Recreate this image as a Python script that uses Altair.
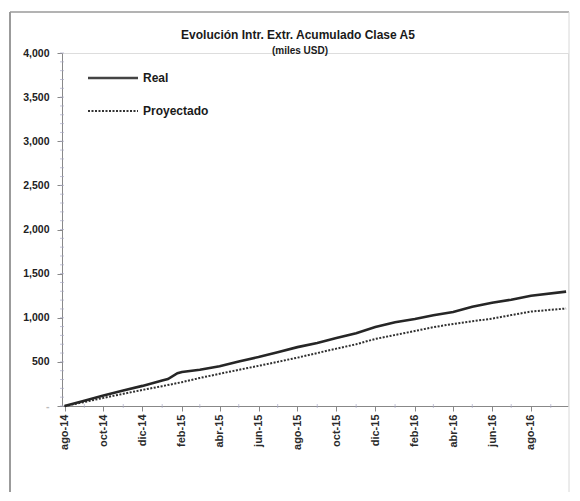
import altair as alt
import pandas as pd

# --- data (miles USD) ---
real_dates = ["2014-08-01", "2014-09-01", "2014-10-01", "2014-11-01", "2014-12-01",
              "2015-01-01", "2015-01-10", "2015-01-25", "2015-02-01", "2015-03-01",
              "2015-04-01", "2015-05-01", "2015-06-01", "2015-07-01", "2015-08-01",
              "2015-09-01", "2015-10-01", "2015-11-01", "2015-12-01", "2016-01-01",
              "2016-02-01", "2016-03-01", "2016-04-01", "2016-05-01", "2016-06-01",
              "2016-07-01", "2016-08-01", "2016-09-25"]
real_vals = [0, 60, 120, 175, 228,
             290, 305, 372, 385, 410,
             450, 505, 555, 610, 667,
             715, 770, 825, 895, 950,
             985, 1028, 1065, 1125, 1170,
             1205, 1250, 1296]

proj_dates = ["2014-08-01", "2014-09-01", "2014-10-01", "2014-11-01", "2014-12-01",
              "2015-01-01", "2015-02-01", "2015-03-01", "2015-04-01", "2015-05-01",
              "2015-06-01", "2015-07-01", "2015-08-01", "2015-09-01", "2015-10-01",
              "2015-11-01", "2015-12-01", "2016-01-01", "2016-02-01", "2016-03-01",
              "2016-04-01", "2016-05-01", "2016-06-01", "2016-07-01", "2016-08-01",
              "2016-09-25"]
proj_vals = [0, 45, 92, 138, 182,
             225, 270, 318, 365, 410,
             455, 500, 548, 600, 650,
             700, 760, 805, 850, 893,
             930, 960, 990, 1030, 1070,
             1105]

y_ticks = [0, 500, 1000, 1500, 2000, 2500, 3000, 3500, 4000]
y_minor = list(range(0, 4001, 100))
x_tick_months = [(2014, 8), (2014, 10), (2014, 12), (2015, 2), (2015, 4), (2015, 6),
                 (2015, 8), (2015, 10), (2015, 12), (2016, 2), (2016, 4), (2016, 6),
                 (2016, 8)]
x_minor = ["2014-09-01", "2014-11-01", "2015-01-01", "2015-03-01", "2015-05-01",
           "2015-07-01", "2015-09-01", "2015-11-01", "2016-01-01", "2016-03-01",
           "2016-05-01", "2016-07-01", "2016-09-01"]

title_text = "Evolución Intr. Extr. Acumulado Clase A5"
subtitle_text = "(miles USD)"
legend_names = ["Real", "Proyectado"]

FONT = "Liberation Sans"
AXIS_COL = "#a9a9c6"

df_real = pd.DataFrame({"fecha": real_dates, "valor": real_vals})
df_proj = pd.DataFrame({"fecha": proj_dates, "valor": proj_vals})
df_ymin = pd.DataFrame({"valor": y_minor})
df_xmin = pd.DataFrame({"fecha": x_minor})

W, H = 506, 353

xscale = alt.Scale(type="utc", domain=[alt.DateTime(year=2014, month=7, date=28, utc=True),
                                       alt.DateTime(year=2016, month=9, date=28, utc=True)])
yscale = alt.Scale(domain=[0, 4000], nice=False)

month_expr = ("['ene','feb','mar','abr','may','jun','jul','ago','sep','oct','nov','dic']"
              "[utcmonth(datum.value)] + '-' + utcFormat(datum.value, '%y')")

x_axis = alt.Axis(title=None, values=[alt.DateTime(year=y, month=m, date=1, utc=True)
                                      for (y, m) in x_tick_months],
                  labelExpr=month_expr, labelAngle=-90, labelFontSize=11,
                  labelFontWeight="bold", tickSize=5, labelPadding=3, grid=False,
                  labelColor="#2a2a2a")
y_axis = alt.Axis(title=None, values=y_ticks,
                  labelExpr="datum.value == 0 ? '-' : format(datum.value, ',')",
                  labelColor=alt.condition("datum.value == 0", alt.value("#bbbbbb"),
                                           alt.value("#222222")),
                  labelFontSize=10.5, labelFontWeight="bold", tickSize=5,
                  labelPadding=8, grid=False)

x_enc = alt.X("fecha:T", scale=xscale, axis=x_axis)
y_enc = alt.Y("valor:Q", scale=yscale, axis=y_axis)

real_line = alt.Chart(df_real).mark_line(color="#262626", strokeWidth=2.6).encode(
    x=x_enc, y=y_enc)
proj_line = alt.Chart(df_proj).mark_line(color="#303030", strokeWidth=2,
                                         strokeDash=[2, 1.5]).encode(x=x_enc, y=y_enc)

y_minor_ticks = alt.Chart(df_ymin).mark_tick(orient="horizontal", size=4, thickness=1,
                                             color=AXIS_COL).encode(
    y=y_enc, x=alt.value(0))
x_minor_ticks = alt.Chart(df_xmin).mark_tick(orient="vertical", size=4, thickness=1,
                                             color=AXIS_COL).encode(
    x=x_enc, y=alt.value(H))

one = pd.DataFrame({"a": [0]})
frame_left = alt.Chart(one).mark_rule(color="#7a7a7a", strokeWidth=1.5).encode(
    x=alt.value(-52), y=alt.value(-41), y2=alt.value(442))
frame_top = alt.Chart(one).mark_rule(color="#9a9a9a", strokeWidth=1.5).encode(
    x=alt.value(-52), x2=alt.value(507), y=alt.value(-41))
frame_bottom = alt.Chart(one).mark_rule(color="#9a9a9a", strokeWidth=1.2).encode(
    x=alt.value(-52), x2=alt.value(507), y=alt.value(442))
frame_right = alt.Chart(one).mark_rule(color="#d8d8d8", strokeWidth=1).encode(
    x=alt.value(507), y=alt.value(-41), y2=alt.value(442))

title = alt.Chart(pd.DataFrame({"t": [title_text]})).mark_text(
    font=FONT, fontSize=12, fontWeight="bold", color="#1a1a1a", align="center",
    baseline="middle").encode(text="t:N", x=alt.value(236), y=alt.value(-18))
subtitle = alt.Chart(pd.DataFrame({"t": [subtitle_text]})).mark_text(
    font=FONT, fontSize=10, fontWeight="bold", color="#1a1a1a", align="center",
    baseline="middle").encode(text="t:N", x=alt.value(238), y=alt.value(-2))

leg_real_line = alt.Chart(one).mark_rule(
    color="#444", strokeWidth=2.6).encode(x=alt.value(26), x2=alt.value(76), y=alt.value(25))
leg_proj_line = alt.Chart(one).mark_rule(
    color="#333", strokeWidth=1.8, strokeDash=[2, 1.5]).encode(
    x=alt.value(26), x2=alt.value(76), y=alt.value(58))
leg_real_txt = alt.Chart(pd.DataFrame({"t": [legend_names[0]]})).mark_text(
    font=FONT, fontSize=12, fontWeight="bold", color="#1a1a1a", align="left",
    baseline="middle").encode(text="t:N", x=alt.value(81), y=alt.value(25))
leg_proj_txt = alt.Chart(pd.DataFrame({"t": [legend_names[1]]})).mark_text(
    font=FONT, fontSize=12, fontWeight="bold", color="#1a1a1a", align="left",
    baseline="middle").encode(text="t:N", x=alt.value(81), y=alt.value(58))

chart = alt.layer(
    proj_line, real_line, y_minor_ticks, x_minor_ticks,
    frame_left, frame_top, frame_bottom, frame_right, title, subtitle,
    leg_real_line, leg_proj_line, leg_real_txt, leg_proj_txt,
).properties(
    width=W, height=H,
    padding={"left": 54, "top": 45, "right": 4, "bottom": 86},
    autosize=alt.AutoSizeParams(type="none"),
).configure_view(stroke=None).configure_axis(
    domainColor=AXIS_COL, tickColor=AXIS_COL, domainWidth=1.5, labelFont=FONT
).configure(background="white")

chart.save("out.html", embed_options={"renderer": "svg", "actions": False})
